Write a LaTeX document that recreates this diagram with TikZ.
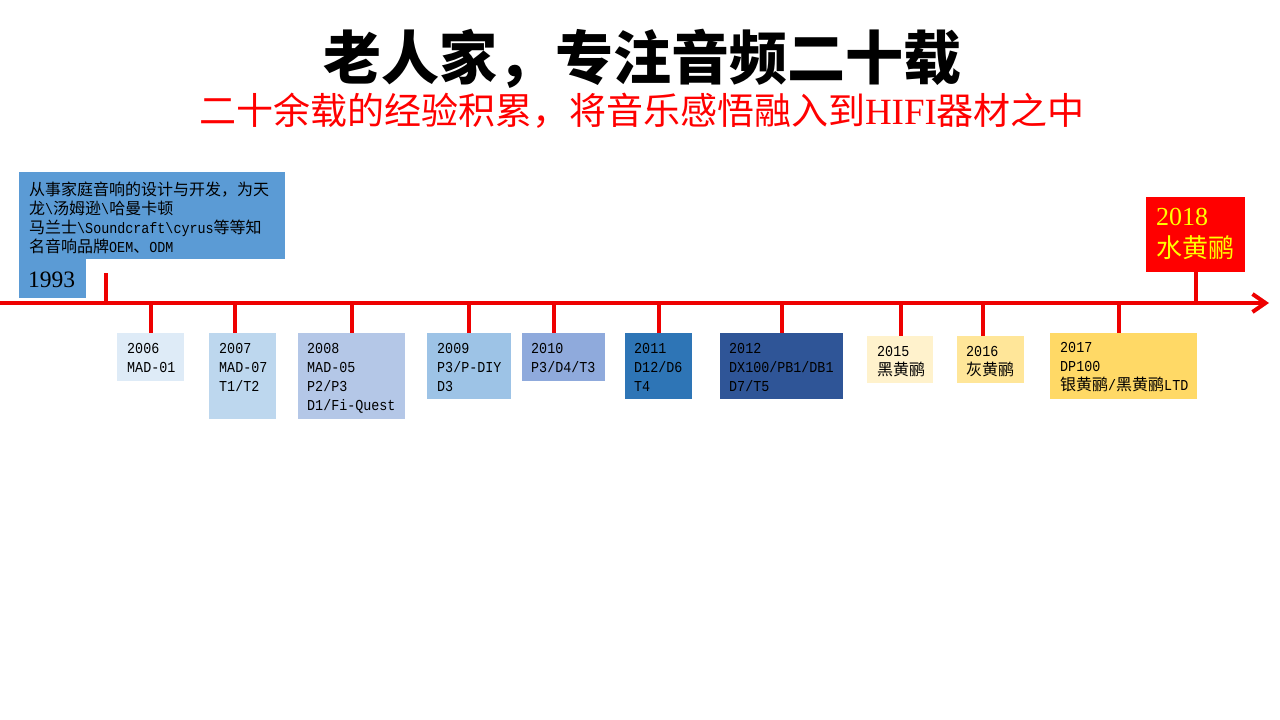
\documentclass[tikz,border=0pt]{standalone}
\usepackage{fontspec}
\setmainfont{Liberation Serif}
\newfontfamily\cjk{Noto Sans CJK SC}
\newfontfamily\lat[Scale=0.95, FakeStretch=0.88]{Liberation Mono}
\newcommand{\zh}[1]{{\cjk #1}}
\newcommand{\boxfont}{\fontsize{16}{19}\selectfont\lat}
\usetikzlibrary{arrows.meta}
\definecolor{axisred}{HTML}{EE0000}
\definecolor{c1993}{HTML}{5B9BD5}
\definecolor{c2006}{HTML}{DEEBF7}
\definecolor{c2007}{HTML}{BDD7EE}
\definecolor{c2008}{HTML}{B4C7E7}
\definecolor{c2009}{HTML}{9DC3E6}
\definecolor{c2010}{HTML}{8FAADC}
\definecolor{c2011}{HTML}{2E75B6}
\definecolor{c2012}{HTML}{2F5597}
\definecolor{c2015}{HTML}{FFF2CC}
\definecolor{c2016}{HTML}{FFE699}
\definecolor{c2017}{HTML}{FFD966}
\definecolor{c2018}{HTML}{FF0000}
\definecolor{gold}{HTML}{FFFF00}
\begin{document}
\begin{tikzpicture}[x=1pt,y=-1pt,
    box/.style={rectangle, anchor=north west, inner sep=0pt, outer sep=0pt},
    boxtext/.style={anchor=north west, inner sep=0pt, align=left, font=\boxfont},
    tick/.style={draw=axisred, line width=4pt},
    axis/.style={draw=axisred, line width=4pt, -{Straight Barb[length=13pt,width=18pt]}}]
  \useasboundingbox (0,0) rectangle (1280,720);
  %titles
  \node[font=\fontsize{58}{60}\selectfont\cjk\bfseries] (title) at (642,59) {老人家，专注音频二十载};
  \node[text=c2018, font=\fontsize{37}{40}\selectfont] (subtitle) at (642,111) {\zh{二十余载的经验积累，将音乐感悟融入到}HIFI\zh{器材之中}};
  %timeline
  \coordinate (axisL) at (0,303);
  \coordinate (axisR) at (1269,303);
  \coordinate (t1993) at (106,303); \coordinate (c1993) at (106,273);
  \coordinate (t2006) at (151,303);
  \coordinate (t2007) at (235,303);
  \coordinate (t2008) at (352,303);
  \coordinate (t2009) at (469,303);
  \coordinate (t2010) at (554,303);
  \coordinate (t2011) at (659,303);
  \coordinate (t2012) at (782,303);
  \coordinate (t2015) at (901,303);
  \coordinate (t2016) at (983,303);
  \coordinate (t2017) at (1119,303);
  \coordinate (t2018) at (1196,303);
  %boxes
  \node[box, fill=c1993, minimum width=266, minimum height=87] (b1993) at (19,172) {};
  \node[box, fill=c1993, minimum width=67, minimum height=39] (b1993y) at (b1993.south west) {};
  \node[box, fill=c2006, minimum width=67, minimum height=48] (b2006) at (117,333) {};
  \node[box, fill=c2007, minimum width=67, minimum height=86] (b2007) at (209,333) {};
  \node[box, fill=c2008, minimum width=107, minimum height=86] (b2008) at (298,333) {};
  \node[box, fill=c2009, minimum width=84, minimum height=66] (b2009) at (427,333) {};
  \node[box, fill=c2010, minimum width=83, minimum height=48] (b2010) at (522,333) {};
  \node[box, fill=c2011, minimum width=67, minimum height=66] (b2011) at (625,333) {};
  \node[box, fill=c2012, minimum width=123, minimum height=66] (b2012) at (720,333) {};
  \node[box, fill=c2015, minimum width=66, minimum height=47] (b2015) at (867,336) {};
  \node[box, fill=c2016, minimum width=67, minimum height=47] (b2016) at (957,336) {};
  \node[box, fill=c2017, minimum width=147, minimum height=66] (b2017) at (1050,333) {};
  \node[box, fill=c2018, minimum width=99, minimum height=75] (b2018) at (1146,197) {};
  %texts
  \node[boxtext] (l1993) at ([shift={(10,10)}]b1993.north west) {\zh{从事家庭音响的设计与开发，为天}\\\zh{龙}\textbackslash\zh{汤姆逊}\textbackslash\zh{哈曼卡顿}\\\zh{马兰士}\textbackslash Soundcraft\textbackslash cyrus\zh{等等知}\\\zh{名音响品牌}OEM\zh{、}ODM};
  \node[anchor=base west, inner sep=0pt, font=\fontsize{23.5}{24}\selectfont] (y1993) at (28,287) {1993};
  \node[boxtext] (l2006) at ([shift={(10,10.5)}]b2006.north west) {2006\\MAD-01};
  \node[boxtext] (l2007) at ([shift={(10,10.5)}]b2007.north west) {2007\\MAD-07\\T1/T2};
  \node[boxtext] (l2008) at ([shift={(9,10.5)}]b2008.north west) {2008\\MAD-05\\P2/P3\\D1/Fi-Quest};
  \node[boxtext] (l2009) at ([shift={(10,10.5)}]b2009.north west) {2009\\P3/P-DIY\\D3};
  \node[boxtext] (l2010) at ([shift={(9,10.5)}]b2010.north west) {2010\\P3/D4/T3};
  \node[boxtext] (l2011) at ([shift={(9,10.5)}]b2011.north west) {2011\\D12/D6\\T4};
  \node[boxtext] (l2012) at ([shift={(9,10.5)}]b2012.north west) {2012\\DX100/PB1/DB1\\D7/T5};
  \node[boxtext] (l2015) at ([shift={(10,10.5)}]b2015.north west) {2015\\\zh{黑黄鹂}};
  \node[boxtext] (l2016) at ([shift={(9,10.5)}]b2016.north west) {2016\\\zh{灰黄鹂}};
  \node[boxtext] (l2017) at ([shift={(10,9.5)}]b2017.north west) {2017\\DP100\\\zh{银黄鹂}/\zh{黑黄鹂}LTD};
  \node[anchor=north west, inner sep=0pt, align=left, text=gold, font=\fontsize{26}{32}\selectfont] (l2018) at ([shift={(10,11)}]b2018.north west) {2018\\\zh{水黄鹂}};
  %ticks
  \draw[tick] (t1993) -- (c1993);
  \foreach \yr in {2006,2007,2008,2009,2010,2011,2012,2015,2016,2017}
    \draw[tick] (t\yr) -- (b\yr.north -| t\yr);
  \draw[tick] (t2018) -- (b2018.south -| t2018);
  \draw[axis] (axisL) -- (axisR);
\end{tikzpicture}
\end{document}
